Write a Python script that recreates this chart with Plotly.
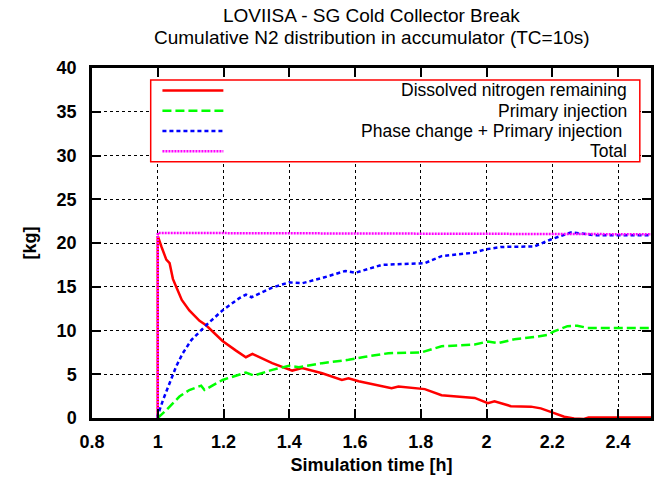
import plotly.graph_objects as go

# ---- data ----
red_t = [1.0, 1.0, 1.011, 1.026, 1.036, 1.046, 1.056, 1.073, 1.096, 1.127, 1.147, 1.197, 1.238, 1.268,
         1.288, 1.348, 1.409, 1.439, 1.50, 1.56, 1.58, 1.611, 1.711, 1.732, 1.812, 1.863, 1.964, 2.004,
         2.024, 2.074, 2.135, 2.165, 2.195, 2.236, 2.266, 2.296, 2.31, 2.50]
red_v = [0, 20.8, 19.6, 18.1, 17.7, 15.9, 15.0, 13.5, 12.3, 11.1, 10.6, 8.8, 7.7, 6.95,
         7.33, 6.27, 5.42, 5.7, 5.12, 4.36, 4.55, 4.2, 3.4, 3.6, 3.3, 2.6, 2.3, 1.7,
         1.9, 1.35, 1.3, 1.1, 0.7, 0.15, -0.05, -0.1, 0.05, 0.05]

green_t = [1.0, 1.026, 1.066, 1.096, 1.132, 1.142, 1.197, 1.248, 1.268, 1.293, 1.348, 1.399, 1.429,
           1.50, 1.58, 1.631, 1.701, 1.802, 1.863, 1.964, 2.004, 2.034, 2.085, 2.145, 2.185, 2.205,
           2.246, 2.276, 2.306, 2.50]
green_v = [0.0, 0.9, 2.45, 3.2, 3.7, 3.2, 4.35, 4.93, 5.2, 4.85, 5.5, 5.96, 5.8,
           6.27, 6.65, 7.0, 7.4, 7.5, 8.2, 8.4, 8.75, 8.55, 9.0, 9.25, 9.5, 9.9,
           10.5, 10.55, 10.3, 10.3]

blue_t = [1.0, 1.0, 1.016, 1.041, 1.056, 1.076, 1.102, 1.147, 1.197, 1.248, 1.268, 1.285, 1.348,
          1.399, 1.439, 1.50, 1.570, 1.601, 1.681, 1.812, 1.863, 1.964, 1.994, 2.044, 2.145, 2.195,
          2.226, 2.256, 2.286, 2.327, 2.50]
blue_v = [0.0, 0.3, 2.06, 4.36, 5.9, 7.4, 8.9, 10.6, 12.3, 13.7, 14.1, 13.8, 14.9,
          15.5, 15.4, 16.0, 16.8, 16.6, 17.5, 17.7, 18.5, 18.9, 19.25, 19.55, 19.6, 20.4,
          20.8, 21.2, 21.1, 20.9, 20.9]

total_t = [1.0, 1.0, 1.5, 2.0, 2.5]
total_v = [0.0, 21.15, 21.1, 21.05, 21.0]

series_names = ["Dissolved nitrogen remaining", "Primary injection",
                "Phase change + Primary injection ", "Total"]
series_colors = ["#ff0000", "#00ff00", "#0000ff", "#ff00ff"]
series_dash = ["solid", "9px,4px", "4px,3px", "2px,1px"]

title_lines = ["LOVIISA - SG Cold Collector Break",
               "Cumulative N2 distribution in accumulator (TC=10s)"]

x_ticks = [0.8, 1.0, 1.2, 1.4, 1.6, 1.8, 2.0, 2.2, 2.4]
x_tick_labels = ["0.8", "1", "1.2", "1.4", "1.6", "1.8", "2", "2.2", "2.4"]
y_ticks = [0, 5, 10, 15, 20, 25, 30, 35, 40]

FONT = "Liberation Sans"

fig = go.Figure()
for t, v, name, col, dash in zip([red_t, green_t, blue_t, total_t],
                                 [red_v, green_v, blue_v, total_v],
                                 series_names, series_colors, series_dash):
    fig.add_trace(go.Scatter(x=t, y=v, mode="lines", name=name,
                             line=dict(color=col, width=2.5, dash=dash),
                             showlegend=False))

# ---- custom legend (right-aligned text like gnuplot) ----
shapes = [dict(type="rect", xref="paper", yref="paper", x0=0.105, x1=0.980, y0=0.732, y1=0.966,
               line=dict(color="#ff0000", width=1.5), fillcolor="white", layer="above")]
annotations = []
rows = [0.936, 0.878, 0.820, 0.762]
for ry, name, col, dash in zip(rows, series_names, series_colors, series_dash):
    shapes.append(dict(type="line", xref="paper", yref="paper", x0=0.126, x1=0.235, y0=ry, y1=ry,
                       line=dict(color=col, width=2.5, dash=dash), layer="above"))
    annotations.append(dict(text=name, xref="paper", yref="paper", x=0.961, y=ry,
                            xanchor="right", yanchor="middle", showarrow=False,
                            font=dict(family=FONT, size=17.5, color="black")))

for ty, line in zip([1.149, 1.086], title_lines):
    annotations.append(dict(text=line, xref="paper", yref="paper", x=0.5, y=ty,
                            xanchor="center", yanchor="middle", showarrow=False,
                            font=dict(family=FONT, size=19, color="black")))

axis_common = dict(showline=True, linecolor="black", linewidth=2.5, mirror="ticks",
                   ticks="inside", ticklen=9, tickwidth=2, tickcolor="black",
                   showgrid=True, gridcolor="black", griddash="dot", gridwidth=1,
                   zeroline=False,
                   tickfont=dict(family=FONT, size=18, color="black", weight="bold"))

fig.update_layout(
    width=659, height=481,
    margin=dict(l=92, r=5, t=68, b=63),
    paper_bgcolor="white", plot_bgcolor="white",
    xaxis=dict(range=[0.8, 2.5], tickvals=x_ticks, ticktext=x_tick_labels,
               title=dict(text="Simulation time [h]", standoff=8,
                          font=dict(family=FONT, size=18, color="black", weight="bold")),
               ticklabelstandoff=6, **axis_common),
    yaxis=dict(range=[0, 40], tickvals=y_ticks,
               title=dict(text="[kg]", standoff=16,
                          font=dict(family=FONT, size=18, color="black", weight="bold")),
               ticklabelstandoff=9, **axis_common),
    shapes=shapes, annotations=annotations,
)

fig.write_html("out.html")
